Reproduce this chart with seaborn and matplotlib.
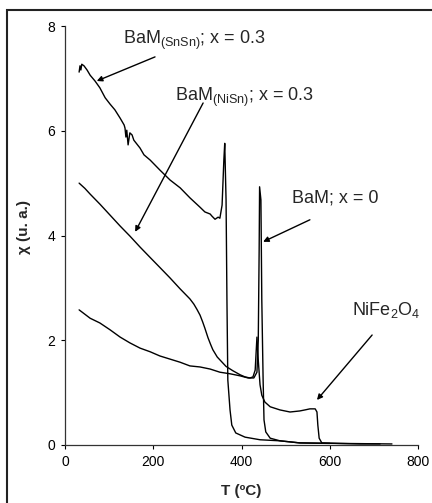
import matplotlib
matplotlib.use("Agg")
import matplotlib.pyplot as plt
import matplotlib.patches as patches
import seaborn as sns

# BaM(SnSn); x = 0.3
snsn_T = [32, 34, 36, 38, 43, 50, 57, 68, 79, 91, 102, 113, 125, 134, 136, 138, 140, 143, 147, 152,
          156, 170, 179, 193, 215, 238, 261, 283, 306, 317, 329, 333, 340, 347, 351,
          356, 360, 362, 365, 367, 369, 374, 378, 387, 408, 442, 487, 532, 600]
snsn_chi = [7.12, 7.24, 7.16, 7.27, 7.24, 7.16, 7.06, 6.95, 6.82, 6.63, 6.51, 6.40, 6.24, 6.11, 6.05, 5.88, 6.01, 5.73, 5.96, 5.92,
            5.82, 5.67, 5.54, 5.44, 5.25, 5.06, 4.91, 4.72, 4.54, 4.45, 4.41, 4.37, 4.31, 4.35, 4.33,
            4.58, 5.44, 5.76, 4.68, 2.77, 1.24, 0.67, 0.38, 0.23, 0.15, 0.10, 0.08, 0.04, 0.03]

# BaM(NiSn); x = 0.3
nisn_T = [32, 45, 57, 79, 102, 125, 147, 170, 193, 215, 238, 261, 283, 292, 299, 306, 312, 317, 324, 330,
          335, 345, 355, 365, 380, 397, 408, 419, 426, 431, 435, 438, 442, 446, 453, 465, 487, 510,
          532, 544, 555, 567, 571, 573, 576, 582, 620, 668, 714]
nisn_chi = [5.00, 4.90, 4.79, 4.60, 4.39, 4.18, 3.99, 3.78, 3.58, 3.39, 3.19, 2.98, 2.79, 2.69, 2.59, 2.48, 2.35, 2.23, 2.05, 1.92,
            1.82, 1.68, 1.59, 1.50, 1.42, 1.34, 1.30, 1.28, 1.30, 1.43, 2.06, 1.62, 1.15, 0.95, 0.82, 0.73, 0.67, 0.63,
            0.65, 0.67, 0.69, 0.69, 0.63, 0.38, 0.13, 0.04, 0.03, 0.02, 0.02]

# BaM; x = 0
bam_T = [32, 57, 79, 102, 125, 147, 170, 193, 215, 238, 261, 283, 306, 329, 351, 374, 397, 415, 428, 435,
         438, 440, 441, 444, 446, 449, 451, 455, 465, 487, 532, 623, 741]
bam_chi = [2.58, 2.42, 2.33, 2.20, 2.06, 1.95, 1.85, 1.78, 1.70, 1.64, 1.58, 1.51, 1.49, 1.45, 1.39, 1.36, 1.32, 1.28, 1.28, 1.39,
           2.0, 3.72, 4.93, 4.68, 2.77, 1.24, 0.48, 0.25, 0.13, 0.08, 0.04, 0.03, 0.02]

x_ticks = [0, 200, 400, 600, 800]
y_ticks = [0, 2, 4, 6, 8]

sns.set_style("ticks")
plt.rcParams['font.family'] = ['Liberation Sans', 'DejaVu Sans']
plt.rcParams['mathtext.default'] = 'regular'

fig = plt.figure(figsize=(4.32, 5.03), dpi=100)
ax = fig.add_axes([65/432, 58/503, 353/432, 419/503])

for T, chi in [(snsn_T, snsn_chi), (nisn_T, nisn_chi), (bam_T, bam_chi)]:
    sns.lineplot(x=T, y=chi, ax=ax, color='black', lw=1, sort=False, estimator=None)

ax.set_xlim(0, 800)
ax.set_ylim(0, 8)
ax.set_xticks(x_ticks)
ax.set_yticks(y_ticks)
ax.tick_params(direction='out', length=3, width=0.8, labelsize=10, colors='black', pad=4)
for s in ['top', 'right']:
    ax.spines[s].set_visible(False)
for s in ['left', 'bottom']:
    ax.spines[s].set_color('#333333')
    ax.spines[s].set_linewidth(0.9)

ax.set_xlabel('T (ºC)', fontsize=11, fontweight='bold')
ax.set_ylabel('χ (u. a.)', fontsize=11, fontweight='bold')
ax.xaxis.set_label_coords(0.5, -0.092)
ax.yaxis.set_label_coords(-0.096, 0.52)

arrow = dict(arrowstyle='-|>', color='black', lw=1, mutation_scale=8, shrinkA=0, shrinkB=0)
ax.annotate('', xy=(72, 6.95), xytext=(204, 7.41), arrowprops=arrow)
ax.annotate('', xy=(159, 4.07), xytext=(313, 6.53), arrowprops=arrow)
ax.annotate('', xy=(449, 3.88), xytext=(555, 4.30), arrowprops=arrow)
ax.annotate('', xy=(571, 0.86), xytext=(696, 2.10), arrowprops=arrow)

ax.text(131, 7.73, 'BaM$_{(SnSn)}$; x = 0.3', fontsize=13, va='center', ha='left')
ax.text(249, 6.63, 'BaM$_{(NiSn)}$; x = 0.3', fontsize=13, va='center', ha='left')
ax.text(514, 4.72, 'BaM; x = 0', fontsize=13, va='center', ha='left')
ax.text(650, 2.58, 'NiFe$_2$O$_4$', fontsize=13, va='center', ha='left')

# frame around the figure
fig.patches.append(patches.Rectangle((7/432, -0.1), 1.1, 1 - 10/503 + 0.1, transform=fig.transFigure,
                                     fill=False, lw=1.5, edgecolor='#222222'))

plt.savefig('out.png', dpi=100)
plt.close()
